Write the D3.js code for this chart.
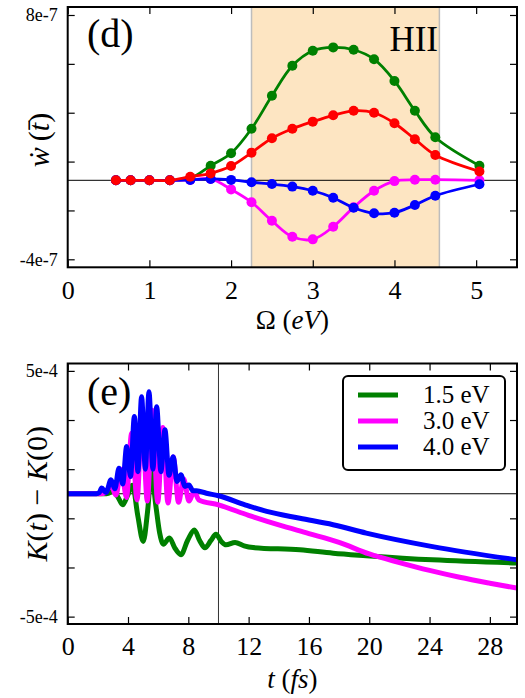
<!DOCTYPE html>
<html>
<head>
<meta charset="utf-8">
<script src="https://cdn.jsdelivr.net/npm/d3@7/dist/d3.min.js"></script>
<style>
body { margin: 0; background: #fff; }
svg text { font-family: "Liberation Serif", "Times New Roman", serif !important; fill: #000; }
</style>
</head>
<body>
<script>
const Width = 525;
const Height = 698;
const serif = '"Liberation Serif", "Times New Roman", serif';

// ---- panel (d): rate vs photon energy (values in units of 1e-7)
const omega = [0.59, 0.77, 1.0, 1.25, 1.5, 1.75, 2.0, 2.25, 2.5, 2.75, 3.0, 3.25, 3.5, 3.75, 4.0, 4.25, 4.5, 5.04];
const greenRate   = [0, 0, 0, 0, 0.1, 0.74, 1.37, 2.61, 4.28, 5.80, 6.56, 6.73, 6.61, 6.13, 5.03, 3.52, 2.18, 0.74];
const magentaRate = [0, 0, 0, 0, 0.02, 0.07, -0.46, -1.11, -2.05, -2.86, -2.99, -2.35, -1.37, -0.53, -0.04, 0.03, 0.03, 0.0];
const blueRate    = [0, 0, 0, 0, 0.02, 0.07, 0.02, -0.10, -0.19, -0.32, -0.53, -0.88, -1.39, -1.67, -1.64, -1.25, -0.78, -0.20];
const redRate     = [0, 0, 0, 0, 0.18, 0.35, 0.72, 1.40, 2.13, 2.61, 2.97, 3.29, 3.52, 3.42, 2.89, 2.08, 1.28, 0.45];
const hiiBand = [2.25, 4.55];

const topXTicks = [0, 1, 2, 3, 4, 5];
const topYTicks = [-4e-7, -1.526e-7, 0.948e-7, 3.422e-7, 5.896e-7, 8.37e-7];
const topYLabels = ["-4e-7", "", "", "", "", "8e-7"];

// ---- panel (e): K(t) - K(0) vs time (values in units of 1e-4)
const tGreen = [0, 2.4, 2.7, 3.0, 3.3, 3.65, 3.95, 4.3, 4.65, 5.01, 5.3, 5.55, 5.85, 6.1, 6.34, 6.75, 7.1, 7.51, 7.95, 8.4, 8.75, 9.1, 9.5, 9.83, 10.2, 10.5, 11.1, 11.7, 12.3, 15.4, 17.6, 19.8, 24.2, 29.8];
const kGreen = [0, 0, 0.02, 0.1, -0.1, -0.45, -0.1, 0.35, -0.9, -1.94, -0.7, 0.85, -0.5, -1.6, -2.05, -1.8, -2.2, -2.48, -1.9, -1.47, -1.9, -2.2, -1.9, -1.65, -1.95, -2.08, -1.98, -2.12, -2.19, -2.28, -2.42, -2.52, -2.69, -2.82];

const tMagenta = [0, 2.2, 2.5, 2.86, 3.2, 3.55, 3.9, 4.24, 4.6, 4.93, 5.28, 5.62, 5.97, 6.31, 6.65, 7.0, 7.35, 7.69, 8.05, 8.38, 8.7, 10, 12, 14, 16, 18, 20, 22, 24, 26, 28, 29.8];
const kMagenta = [0, 0, 0.05, 0.35, -0.05, 1.0, -0.15, 2.46, -0.25, 3.2, -0.3, 3.4, -0.35, 2.7, -0.38, 1.5, -0.35, 0.6, -0.3, 0.1, -0.25, -0.45, -0.88, -1.27, -1.62, -1.98, -2.45, -2.8, -3.12, -3.4, -3.64, -3.84];

const tBlue = [0, 1.9, 2.1, 2.25, 2.55, 2.87, 3.13, 3.40, 3.65, 3.91, 4.17, 4.42, 4.66, 4.9, 5.15, 5.39, 5.65, 5.9, 6.18, 6.45, 6.72, 7.0, 7.25, 7.51, 7.78, 8.04, 8.3, 8.55, 9.2, 10, 11.76, 13.2, 15.4, 17.6, 19.8, 24.2, 29.8];
const kBlue = [0, 0, 0.05, 0.23, 0.05, 0.57, 0.2, 1.04, 0.4, 1.92, 0.7, 3.14, 0.9, 3.95, 1.0, 4.15, 1.0, 3.54, 0.9, 2.6, 0.75, 1.51, 0.5, 0.77, 0.3, 0.36, 0.12, 0.12, 0.02, -0.08, -0.45, -0.72, -1.0, -1.26, -1.6, -2.15, -2.69];

const legendLabels = ["1.5 eV", "3.0 eV", "4.0 eV"];
const legendColors = ["#008000", "#ff00ff", "#0000ff"];

const botXTicks = [0, 4, 8, 12, 16, 20, 24, 28];
const botYTicks = [-5e-4, -3e-4, -1e-4, 1e-4, 3e-4, 5e-4];
const botYLabels = ["-5e-4", "", "", "", "", "5e-4"];

const svg = d3.select('body')
  .append('svg')
    .attr('width', Width)
    .attr('height', Height)
    .style('font-family', serif);

const left = 67.7, right = 517;
const topPanel = { top: 7, bottom: 267.3 };
const botPanel = { top: 363.5, bottom: 624 };

// scales
const xTop = d3.scaleLinear().domain([0, 5.5]).range([left, right]);
const yTop = d3.scaleLinear().domain([-4.405e-7, 8.775e-7]).range([topPanel.bottom, topPanel.top]);
const xBot = d3.scaleLinear().domain([0, 29.8]).range([left, right]);
const yBot = d3.scaleLinear().domain([-5.3e-4, 5.3e-4]).range([botPanel.bottom, botPanel.top]);

const defs = svg.append('defs');
defs.append('clipPath').attr('id', 'clipTop').append('rect')
  .attr('x', left).attr('y', topPanel.top)
  .attr('width', right - left).attr('height', topPanel.bottom - topPanel.top);
defs.append('clipPath').attr('id', 'clipBot').append('rect')
  .attr('x', left).attr('y', botPanel.top)
  .attr('width', right - left).attr('height', botPanel.bottom - botPanel.top);

// draws inward ticks on all four sides + labels on left/bottom
const drawAxes = (x, y, panel, xTicks, yTicks, yLabels) => {
  const ax = svg.append('g');
  ax.append('g')
    .attr('transform', `translate(0, ${panel.bottom})`)
    .call(d3.axisBottom(x).tickValues(xTicks).tickSize(-7).tickPadding(13).tickFormat(d3.format('d')))
    .call(g => g.select('.domain').remove())
    .call(g => g.selectAll('text').style('font-size', '26px'));
  ax.append('g')
    .attr('transform', `translate(0, ${panel.top})`)
    .call(d3.axisTop(x).tickValues(xTicks).tickSize(-7).tickFormat(''))
    .call(g => g.select('.domain').remove());
  ax.append('g')
    .attr('transform', `translate(${left}, 0)`)
    .call(d3.axisLeft(y).tickValues(yTicks).tickSize(-7).tickPadding(10).tickFormat((d, i) => yLabels[i]))
    .call(g => g.select('.domain').remove())
    .call(g => g.selectAll('text').style('font-size', '18px'));
  ax.append('g')
    .attr('transform', `translate(${right}, 0)`)
    .call(d3.axisRight(y).tickValues(yTicks).tickSize(-7).tickFormat(''))
    .call(g => g.select('.domain').remove());
  ax.selectAll('g').attr('font-family', null);
  ax.selectAll('text').style('font-family', serif);
  ax.selectAll('.tick line').attr('stroke', '#000').attr('stroke-width', 1.2);
  svg.append('rect')
    .attr('x', left).attr('y', panel.top)
    .attr('width', right - left).attr('height', panel.bottom - panel.top)
    .attr('fill', 'none').attr('stroke', '#000').attr('stroke-width', 2);
};

// ================= panel (d) =================
const gTop = svg.append('g').attr('clip-path', 'url(#clipTop)');

gTop.append('rect')
  .attr('x', xTop(hiiBand[0])).attr('y', topPanel.top)
  .attr('width', xTop(hiiBand[1]) - xTop(hiiBand[0]))
  .attr('height', topPanel.bottom - topPanel.top)
  .attr('fill', '#fde5c2');
hiiBand.forEach(b => {
  gTop.append('line')
    .attr('x1', xTop(b)).attr('x2', xTop(b))
    .attr('y1', topPanel.top).attr('y2', topPanel.bottom)
    .attr('stroke', '#bdbdbd').attr('stroke-width', 1.5);
});

gTop.append('line')
  .attr('x1', left).attr('x2', right)
  .attr('y1', yTop(0)).attr('y2', yTop(0))
  .attr('stroke', '#000').attr('stroke-width', 1);

const rateSeries = [
  { color: '#008000', values: greenRate },
  { color: '#ff00ff', values: magentaRate },
  { color: '#0000ff', values: blueRate },
  { color: '#ff0000', values: redRate }
];

const rateLine = d3.line()
  .x(d => xTop(d[0]))
  .y(d => yTop(d[1] * 1e-7))
  .curve(d3.curveCatmullRom.alpha(0.5));

rateSeries.forEach(s => {
  const pts = omega.map((o, i) => [o, s.values[i]]);
  gTop.append('path')
    .datum(pts)
    .attr('d', rateLine)
    .attr('fill', 'none')
    .attr('stroke', s.color)
    .attr('stroke-width', 2.8);
  gTop.selectAll(null)
    .data(pts)
    .join('circle')
      .attr('cx', d => xTop(d[0]))
      .attr('cy', d => yTop(d[1] * 1e-7))
      .attr('r', 5)
      .attr('fill', s.color);
});

drawAxes(xTop, yTop, topPanel, topXTicks, topYTicks, topYLabels);

svg.append('text')
  .attr('x', 87).attr('y', 47)
  .style('font-size', '40px')
  .text('(d)');
svg.append('text')
  .attr('x', 438).attr('y', 50.5)
  .attr('text-anchor', 'end')
  .style('font-size', '35px')
  .text('HII');

const xTitleTop = svg.append('text')
  .attr('x', (left + right) / 2).attr('y', 329)
  .attr('text-anchor', 'middle')
  .style('font-size', '27px');
xTitleTop.append('tspan').text('Ω (');
xTitleTop.append('tspan').style('font-style', 'italic').text('eV');
xTitleTop.append('tspan').text(')');

const yTitleTop = svg.append('text')
  .attr('transform', 'translate(49, 140) rotate(-90)')
  .attr('text-anchor', 'middle')
  .style('font-size', '30px');
yTitleTop.append('tspan').style('font-style', 'italic').text('ẇ');
yTitleTop.append('tspan').text('\u2009(');
yTitleTop.append('tspan').style('font-style', 'italic').text('t\u0304');
yTitleTop.append('tspan').text(')');

// ================= panel (e) =================
const gBot = svg.append('g').attr('clip-path', 'url(#clipBot)');

gBot.append('line')
  .attr('x1', left).attr('x2', right)
  .attr('y1', yBot(0)).attr('y2', yBot(0))
  .attr('stroke', '#000').attr('stroke-width', 1);
gBot.append('line')
  .attr('x1', xBot(10)).attr('x2', xBot(10))
  .attr('y1', botPanel.top).attr('y2', botPanel.bottom)
  .attr('stroke', '#333').attr('stroke-width', 1);

const kSeries = [
  { color: legendColors[0], t: tGreen, k: kGreen },
  { color: legendColors[1], t: tMagenta, k: kMagenta },
  { color: legendColors[2], t: tBlue, k: kBlue }
];

const kLine = d3.line()
  .x(d => xBot(d[0]))
  .y(d => yBot(d[1] * 1e-4))
  .curve(d3.curveMonotoneX);

kSeries.forEach(s => {
  gBot.append('path')
    .datum(s.t.map((t, i) => [t, s.k[i]]))
    .attr('d', kLine)
    .attr('fill', 'none')
    .attr('stroke', s.color)
    .attr('stroke-width', 5)
    .attr('stroke-linejoin', 'round');
});

drawAxes(xBot, yBot, botPanel, botXTicks, botYTicks, botYLabels);

svg.append('text')
  .attr('x', 87).attr('y', 405)
  .style('font-size', '40px')
  .text('(e)');

// legend
const legendG = svg.append('g').attr('transform', 'translate(343, 376)');
legendG.append('rect')
  .attr('width', 162).attr('height', 94)
  .attr('rx', 5)
  .attr('fill', '#fff').attr('stroke', '#000').attr('stroke-width', 2);
const legendRow = legendG.selectAll('.legend-row')
  .data(legendLabels)
  .join('g')
    .attr('class', 'legend-row')
    .attr('transform', (d, i) => `translate(0, ${19 + i * 26})`);
legendRow.append('line')
  .attr('x1', 15).attr('x2', 55)
  .attr('stroke', (d, i) => legendColors[i])
  .attr('stroke-width', 5);
legendRow.append('text')
  .attr('x', 80).attr('y', 8)
  .style('font-size', '25px')
  .text(d => d);

const xTitleBot = svg.append('text')
  .attr('x', (left + right) / 2).attr('y', 688)
  .attr('text-anchor', 'middle')
  .style('font-size', '27px');
xTitleBot.append('tspan').style('font-style', 'italic').text('t');
xTitleBot.append('tspan').text(' (');
xTitleBot.append('tspan').style('font-style', 'italic').text('fs');
xTitleBot.append('tspan').text(')');

const yTitleBot = svg.append('text')
  .attr('transform', `translate(47, ${(botPanel.top + botPanel.bottom) / 2}) rotate(-90)`)
  .attr('text-anchor', 'middle')
  .style('font-size', '30px');
yTitleBot.append('tspan').style('font-style', 'italic').text('K');
yTitleBot.append('tspan').text('(');
yTitleBot.append('tspan').style('font-style', 'italic').text('t');
yTitleBot.append('tspan').text(') − ');
yTitleBot.append('tspan').style('font-style', 'italic').text('K');
yTitleBot.append('tspan').text('(0)');
</script>
</body>
</html>
